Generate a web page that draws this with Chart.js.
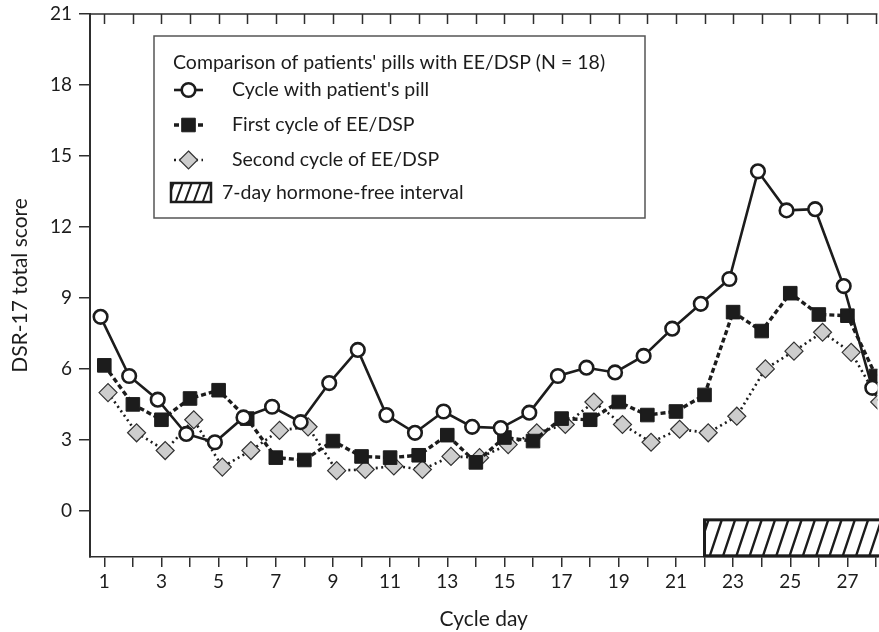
<!DOCTYPE html>
<html>
<head>
<meta charset="utf-8">
<script src="https://cdn.jsdelivr.net/npm/chart.js@4"></script>
<style>
  html, body { margin: 0; padding: 0; background: #fff; }
  #wrap { width: 879px; height: 632px; }
</style>
</head>
<body>
<div id="wrap"><canvas id="dsrChart" width="879" height="632"></canvas></div>
<script>
// DSR-17 total score by cycle day
const days = [1, 2, 3, 4, 5, 6, 7, 8, 9, 10, 11, 12, 13, 14, 15, 16, 17, 18, 19, 20, 21, 22, 23, 24, 25, 26, 27, 28];
const patientPill = [8.2, 5.7, 4.7, 3.25, 2.9, 3.95, 4.4, 3.75, 5.4, 6.8, 4.05, 3.3, 4.2, 3.55, 3.5, 4.15, 5.7, 6.05, 5.85, 6.55, 7.7, 8.75, 9.8, 14.35, 12.7, 12.75, 9.5, 5.2];
const firstCycle = [6.15, 4.5, 3.85, 4.75, 5.1, 3.9, 2.25, 2.15, 2.95, 2.3, 2.25, 2.35, 3.2, 2.05, 3.1, 2.95, 3.9, 3.85, 4.6, 4.05, 4.2, 4.9, 8.4, 7.6, 9.2, 8.3, 8.25, 5.7];
const secondCycle = [5.0, 3.3, 2.55, 3.85, 1.85, 2.55, 3.4, 3.55, 1.7, 1.75, 1.9, 1.75, 2.3, 2.25, 2.8, 3.3, 3.65, 4.6, 3.65, 2.9, 3.45, 3.3, 4.0, 6.0, 6.75, 7.55, 6.7, 4.6];
const yTicks = [0, 3, 6, 9, 12, 15, 18, 21];
const seriesLabels = ["Cycle with patient's pill", 'First cycle of EE/DSP', 'Second cycle of EE/DSP'];
const legendTitle = "Comparison of patients' pills with EE/DSP (N = 18)";
const intervalLabel = '7-day hormone-free interval';
// hormone-free interval: days 22 to end of cycle, drawn under the curves
const intervalDays = [22, 28.6];
const intervalScore = [-1.9, -0.38];

// small horizontal dodge so the three series don't sit on top of each other
const dodge = [-0.13, 0, 0.13];
const INK = '#1c1c1c';
const AXIS = '#2e2e2e';
const FONT = 'Lato';

Chart.defaults.font.family = FONT;
Chart.defaults.color = INK;

function pts(vals, off){
	return days.map((d, i) => ({ x: d + off, y: vals[i] }));
}

function hatchRect(ctx, x0, y0, x1, y1, gap, lean, lw, bw){
	ctx.save();
	ctx.beginPath();
	ctx.rect(x0, y0, x1 - x0, y1 - y0);
	ctx.clip();
	ctx.beginPath();
	for (let x = x0 + gap * 0.3 - lean; x < x1 + gap; x += gap) {
		ctx.moveTo(x, y1);
		ctx.lineTo(x + lean, y0);
	}
	ctx.strokeStyle = INK;
	ctx.lineWidth = lw;
	ctx.stroke();
	ctx.restore();
	ctx.save();
	ctx.strokeStyle = INK;
	ctx.lineWidth = bw;
	ctx.strokeRect(x0, y0, x1 - x0, y1 - y0);
	ctx.restore();
}

// hatched bar for the hormone-free days
const intervalBar = {
	id: 'intervalBar',
	beforeDatasetsDraw(chart){
		const { ctx, scales: { x, y } } = chart;
		const x0 = x.getPixelForValue(intervalDays[0]);
		const x1 = x.getPixelForValue(intervalDays[1]);
		const y0 = y.getPixelForValue(intervalScore[1]);
		const y1 = y.getPixelForValue(intervalScore[0]);
		hatchRect(ctx, x0, y0, x1, y1, 13.3, 12, 2.4, 3);
	}
};

// top frame line with inward ticks
const topFrame = {
	id: 'topFrame',
	afterDraw(chart){
		const { ctx, chartArea: a, scales: { x } } = chart;
		ctx.save();
		ctx.strokeStyle = AXIS;
		ctx.lineWidth = 1.5;
		ctx.beginPath();
		ctx.moveTo(a.left, a.top);
		ctx.lineTo(a.right, a.top);
		x.ticks.forEach(t => {
			const px = Math.round(x.getPixelForValue(t.value)) + 0.5;
			ctx.moveTo(px, a.top);
			ctx.lineTo(px, a.top + 10);
		});
		ctx.stroke();
		ctx.restore();
	}
};

// boxed legend in the upper-left of the plot
const boxLegend = {
	id: 'boxLegend',
	afterDraw(chart){
		const ctx = chart.ctx;
		const bx = 154, by = 36, bw = 491, bh = 182;
		ctx.save();
		ctx.fillStyle = '#fff';
		ctx.fillRect(bx, by, bw, bh);
		ctx.strokeStyle = '#555';
		ctx.lineWidth = 1.5;
		ctx.strokeRect(bx, by, bw, bh);

		ctx.font = '19.5px ' + FONT;
		ctx.fillStyle = INK;
		ctx.textBaseline = 'middle';
		ctx.fillText(legendTitle, 173, 63);

		const rows = [90, 125, 160];
		chart.data.datasets.forEach((ds, i) => {
			const cy = rows[i];
			ctx.save();
			ctx.strokeStyle = ds.borderColor;
			ctx.lineWidth = ds.borderWidth;
			ctx.setLineDash(ds.borderDash || []);
			ctx.beginPath();
			ctx.moveTo(174, cy);
			ctx.lineTo(203, cy);
			ctx.stroke();
			ctx.setLineDash([]);
			ctx.fillStyle = ds.pointBackgroundColor;
			ctx.strokeStyle = ds.pointBorderColor;
			ctx.lineWidth = ds.pointBorderWidth;
			ctx.beginPath();
			const cx = 188.5, r = ds.pointRadius;
			if (ds.pointStyle === 'circle') {
				ctx.arc(cx, cy, r, 0, Math.PI * 2);
			} else if (ds.pointStyle === 'rect') {
				const s = r * Math.SQRT1_2;
				ctx.rect(cx - s, cy - s, 2 * s, 2 * s);
			} else {
				ctx.moveTo(cx, cy - r); ctx.lineTo(cx + r, cy); ctx.lineTo(cx, cy + r); ctx.lineTo(cx - r, cy); ctx.closePath();
			}
			ctx.fill();
			ctx.stroke();
			ctx.restore();
			ctx.fillStyle = INK;
			ctx.fillText(ds.label, 232, cy);
		});

		hatchRect(ctx, 171, 183, 211, 202, 9, 7, 2, 2.5);
		ctx.fillStyle = INK;
		ctx.fillText(intervalLabel, 222, 193);
		ctx.restore();
	}
};

new Chart(document.getElementById('dsrChart'), {
	type: 'line',
	data: {
		datasets: [{
			label: seriesLabels[0],
			data: pts(patientPill, dodge[0]),
			borderColor: INK,
			borderWidth: 2.6,
			pointStyle: 'circle',
			pointRadius: 6.8,
			pointBackgroundColor: '#fff',
			pointBorderColor: INK,
			pointBorderWidth: 2.6,
			tension: 0
		}, {
			label: seriesLabels[1],
			data: pts(firstCycle, dodge[1]),
			borderColor: INK,
			borderWidth: 3.4,
			borderDash: [5, 3],
			pointStyle: 'rect',
			pointRadius: 9.6,
			pointBackgroundColor: INK,
			pointBorderColor: INK,
			pointBorderWidth: 1,
			tension: 0
		}, {
			label: seriesLabels[2],
			data: pts(secondCycle, dodge[2]),
			borderColor: INK,
			borderWidth: 2.6,
			borderDash: [2, 3.5],
			pointStyle: 'rectRot',
			pointRadius: 9,
			pointBackgroundColor: '#cdcdcd',
			pointBorderColor: '#333',
			pointBorderWidth: 1.2,
			tension: 0
		}]
	},
	options: {
		responsive: false,
		animation: false,
		layout: { autoPadding: false, padding: { top: 14, left: 0, right: 0, bottom: 0 } },
		plugins: { legend: { display: false }, tooltip: { enabled: false } },
		scales: {
			x: {
				type: 'linear',
				min: 0.5,
				max: 28.05,
				afterBuildTicks: s => { s.ticks = days.map(v => ({ value: v })); },
				afterFit: s => { s.height = 75; },
				ticks: {
					autoSkip: false,
					maxRotation: 0,
					padding: 3,
					font: { size: 19 },
					color: INK,
					callback: v => (v % 2 === 1 ? String(v) : '')
				},
				grid: { drawOnChartArea: false, drawTicks: true, tickLength: 10, color: AXIS, lineWidth: 1.5 },
				border: { display: true, color: AXIS, width: 1.5 },
				title: { display: true, text: 'Cycle day', font: { size: 21 }, color: INK, padding: { top: 0, bottom: 0 } }
			},
			y: {
				min: -1.95,
				max: 21,
				afterBuildTicks: s => { s.ticks = yTicks.map(v => ({ value: v })); },
				afterFit: s => { s.width = 90; s.paddingTop = 11; s.paddingBottom = 0; },
				ticks: { font: { size: 19 }, color: INK, padding: 7 },
				grid: { drawOnChartArea: false, drawTicks: true, tickLength: 11, color: AXIS, lineWidth: 1.5 },
				border: { display: true, color: AXIS, width: 2 },
				title: { display: true, text: 'DSR-17 total score', font: { size: 21 }, color: INK, padding: { top: 8, bottom: 0 } }
			}
		}
	},
	plugins: [intervalBar, topFrame, boxLegend]
});
</script>
</body>
</html>
